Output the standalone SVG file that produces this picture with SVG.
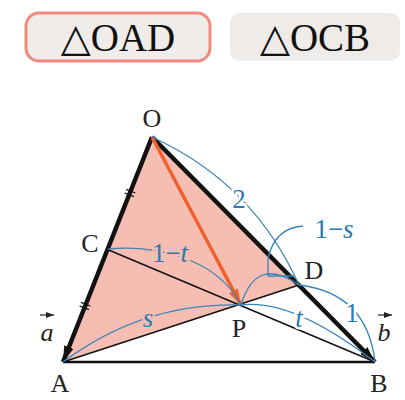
<svg xmlns="http://www.w3.org/2000/svg" width="405" height="400" viewBox="0 0 405 400">
<style>
text{font-family:'Liberation Serif','Times New Roman','DejaVu Serif',serif}
.lbl{font-size:26px;fill:#222}
.bl{font-size:27px;fill:#2a7ab5;paint-order:stroke;stroke-width:5}
.it{font-style:italic}
.arc{fill:none;stroke:#3a84b8;stroke-width:1.3}
.btn{font-size:39px;fill:#111}
</style>
<defs>
<marker id="ah" viewBox="0 0 16 10" refX="16" refY="5" markerWidth="16" markerHeight="10" markerUnits="userSpaceOnUse" orient="auto"><path d="M0,0 L16,5 L0,10 z" fill="#111"/></marker>
<marker id="ao" viewBox="0 0 16 10" refX="16" refY="5" markerWidth="16" markerHeight="10" markerUnits="userSpaceOnUse" orient="auto"><path d="M0,0 L16,5 L0,10 z" fill="#f0602a"/></marker>
<marker id="sm" viewBox="0 0 8 6" refX="8" refY="3" markerWidth="8" markerHeight="6" markerUnits="userSpaceOnUse" orient="auto"><path d="M0,0 L8,3 L0,6 z" fill="#222"/></marker>
</defs>
<rect width="405" height="400" fill="#fff"/>
<g id="btn-oad">
<rect x="26" y="13" width="184" height="48" rx="13" fill="#f0ecea" stroke="#f08a80" stroke-width="3"/>
<text class="btn" x="118" y="51" text-anchor="middle">△OAD</text>
</g>
<g id="btn-ocb">
<rect x="230" y="13" width="170" height="48" rx="10" fill="#eeebe8"/>
<text class="btn" x="315" y="51" text-anchor="middle">△OCB</text>
</g>
<g id="shade">
<polygon points="152,137 63,362 299,285" fill="#f6bdb2"/>
</g>
<g id="connectors">
<line x1="63" y1="362" x2="375" y2="362" stroke="#111" stroke-width="2.5"/>
<line x1="107.5" y1="249.5" x2="375" y2="362" stroke="#111" stroke-width="1.5"/>
<line x1="63" y1="362" x2="299" y2="285" stroke="#111" stroke-width="1.5"/>
<line x1="152" y1="137" x2="63" y2="362" stroke="#111" stroke-width="4.5" marker-end="url(#ah)"/>
<line x1="152" y1="137" x2="375" y2="362" stroke="#111" stroke-width="4.5" marker-end="url(#ah)"/>
<line x1="152" y1="137" x2="241" y2="305" stroke="#f0602a" stroke-width="3.5" marker-end="url(#ao)"/>
<g transform="translate(130,193) rotate(111.6)" stroke="#111" stroke-width="1.3"><line x1="-2" y1="-5" x2="-2" y2="5"/><line x1="2" y1="-5" x2="2" y2="5"/></g>
<g transform="translate(85,306) rotate(111.6)" stroke="#111" stroke-width="1.3"><line x1="-2" y1="-5" x2="-2" y2="5"/><line x1="2" y1="-5" x2="2" y2="5"/></g>
<path class="arc" d="M152,137 Q253,183 299,285"/>
<path class="arc" d="M299,285 Q367,293 375,362"/>
<path class="arc" d="M241,305 Q256,255 299,285"/>
<path class="arc" d="M303,226 Q275,228 268,258 L268,276 L294,276"/>
<path class="arc" d="M63,362 Q144,302 241,305"/>
<path class="arc" d="M241,305 Q292,298 375,362"/>
<path class="arc" d="M108,249 C150,245 215,255 241,305"/>
</g>
<g id="labels">
<text class="bl" x="239" y="208" text-anchor="middle" stroke="#fff">2</text>
<text class="bl" x="352" y="322" text-anchor="middle" stroke="#fff">1</text>
<text class="bl" x="334" y="238" text-anchor="middle" stroke="#fff">1−<tspan class="it">s</tspan></text>
<text class="bl it" x="148" y="327" text-anchor="middle" stroke="#f6bdb2">s</text>
<text class="bl it" x="299" y="327" text-anchor="middle" stroke="#fff">t</text>
<text class="bl" x="170" y="262" text-anchor="middle" stroke="#f6bdb2">1−<tspan class="it">t</tspan></text>
</g>
<g id="node-O"><text class="lbl" x="152" y="127" text-anchor="middle">O</text></g>
<g id="node-C"><text class="lbl" x="90" y="252" text-anchor="middle">C</text></g>
<g id="node-D"><text class="lbl" x="314" y="279" text-anchor="middle">D</text></g>
<g id="node-P"><text class="lbl" x="239" y="337" text-anchor="middle">P</text></g>
<g id="node-A"><text class="lbl" x="60" y="392" text-anchor="middle">A</text></g>
<g id="node-B"><text class="lbl" x="379" y="392" text-anchor="middle">B</text></g>
<g id="vec-a"><line x1="40" y1="315" x2="54" y2="315" stroke="#222" stroke-width="1.2" marker-end="url(#sm)"/><text class="lbl it" x="47" y="341" text-anchor="middle">a</text></g>
<g id="vec-b"><line x1="378" y1="315" x2="392" y2="315" stroke="#222" stroke-width="1.2" marker-end="url(#sm)"/><text class="lbl it" x="384" y="341" text-anchor="middle">b</text></g>
</svg>
